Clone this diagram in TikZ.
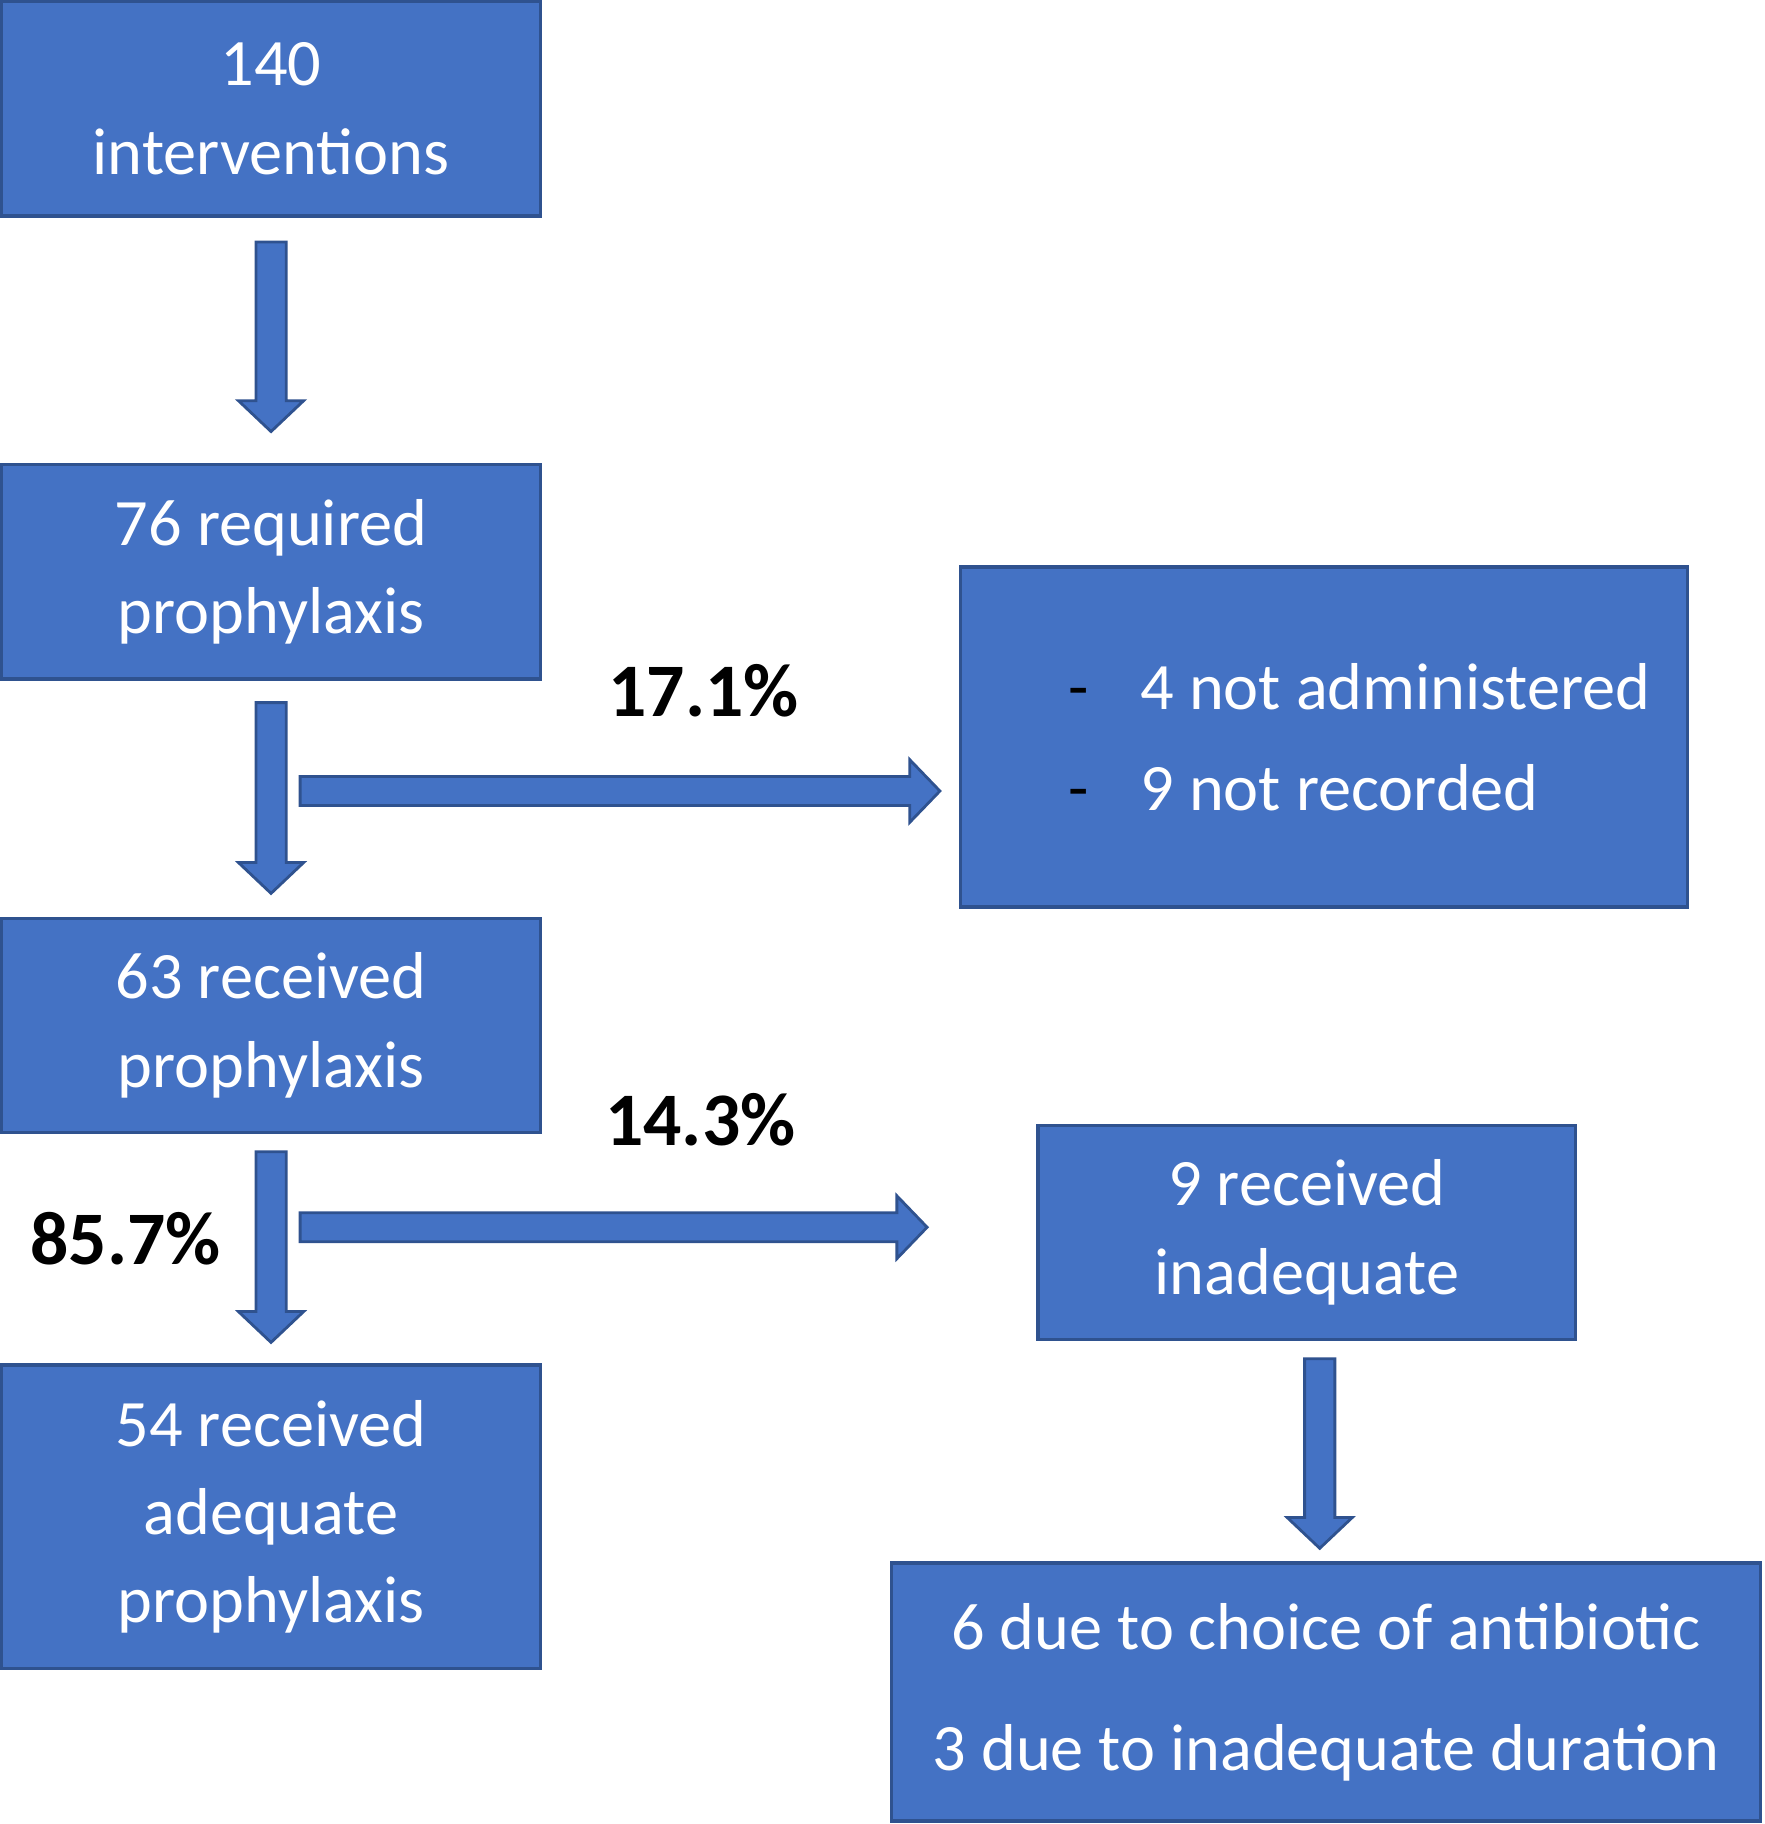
\documentclass[tikz,border=0pt]{standalone}
\usepackage{fontspec}
\setmainfont{Carlito}
\usetikzlibrary{calc}
\definecolor{boxfill}{HTML}{4472C4}
\definecolor{boxline}{HTML}{2F528F}
\tikzset{
  flowbox/.style={draw=boxline, fill=boxfill, line width=1.5pt, text=white,
    align=center, inner sep=0pt, font=\fontsize{28.5}{38}\selectfont},
  pct/.style={font=\bfseries\fontsize{32.5}{39}\selectfont, inner sep=0pt, text=black},
  blockarrow/.style={draw=boxline, fill=boxfill, line width=1.2pt, line join=miter},
}
\newcommand\downblock[2]{%
  \draw[blockarrow] let \p1=(#1), \p2=(#2) in
    (\x1-6.5pt,\y1) -- (\x1+6.5pt,\y1) -- (\x1+6.5pt,\y2+13.25pt) -- (\x1+14pt,\y2+13.25pt)
    -- (\x1,\y2) -- (\x1-14pt,\y2+13.25pt) -- (\x1-6.5pt,\y2+13.25pt) -- cycle;}
\newcommand\rightblock[2]{%
  \draw[blockarrow] let \p1=(#1), \p2=(#2) in
    (\x1,\y1+6.25pt) -- (\x2-13pt,\y1+6.25pt) -- (\x2-13pt,\y1+13.5pt) -- (\x2,\y1)
    -- (\x2-13pt,\y1-13.5pt) -- (\x2-13pt,\y1-6.25pt) -- (\x1,\y1-6.25pt) -- cycle;}
\begin{document}
\begin{tikzpicture}[x=0.5pt,y=-0.5pt]
\useasboundingbox (0,0) rectangle (1517,1568);

% boxes
\node[flowbox, minimum width=231.5pt, minimum height=92pt] (b1) at (233,93.5) {140\\interventions};
\node[flowbox, minimum width=231.5pt, minimum height=92pt] (b2) at (233,491.5) {76 required\\prophylaxis};
\node[flowbox, minimum width=231.5pt, minimum height=92pt] (b4) at (233,881.5) {63 received\\prophylaxis};
\node[flowbox, minimum width=231.5pt, minimum height=130.5pt, font=\fontsize{28.5}{37.75}\selectfont] (b5) at (233,1304) {54 received\\adequate\\prophylaxis};
\node[flowbox, minimum width=312.5pt, minimum height=146pt] (b3) at (1138,633.5) {};
\node[text=white, align=left, inner sep=0pt, anchor=west, font=\fontsize{28.5}{43.5}\selectfont] (t3) at (918.5,633.5)
  {\makebox[30.75pt][l]{\textcolor{black}{-}}4 not administered\\\makebox[30.75pt][l]{\textcolor{black}{-}}9 not recorded};
\node[flowbox, minimum width=231pt, minimum height=92pt] (b6) at (1123.5,1059.5) {9 received\\inadequate};
\node[flowbox, minimum width=373.5pt, minimum height=111pt, font=\fontsize{28.5}{52}\selectfont] (b7) at (1140,1454.5) {6 due to choice of antibiotic\\3 due to inadequate duration};

% percentage labels
\node[pct] (p1) at (605,594) {17.1\%};
\node[pct] (p2) at (602,963) {14.3\%};
\node[pct] (p3) at (108,1065) {85.7\%};

% arrow end points
\coordinate (a1s) at ($(b1.south)+(0,21)$);
\coordinate (a1e) at ($(b2.north)+(0,-27)$);
\coordinate (a2s) at ($(b2.south)+(0,19)$);
\coordinate (a2e) at ($(b4.north)+(0,-20)$);
\coordinate (a3s) at ($(b4.south)+(0,15)$);
\coordinate (a3e) at ($(b5.north)+(0,-18)$);
\coordinate (a4s) at ($(b6.south)+(11,15)$);
\coordinate (a4e) at ($(b7.north)+(-5.5,-11)$);
\coordinate (h1s) at ($(b2.south)+(25,95)$);
\coordinate (h1e) at ($(b3.west)+(-16,46.5)$);
\coordinate (h2s) at ($(b4.south)+(25,80)$);
\coordinate (h2e) at ($(b6.west)+(-94,-4.5)$);

\downblock{a1s}{a1e}
\downblock{a2s}{a2e}
\downblock{a3s}{a3e}
\downblock{a4s}{a4e}
\rightblock{h1s}{h1e}
\rightblock{h2s}{h2e}
\end{tikzpicture}
\end{document}
